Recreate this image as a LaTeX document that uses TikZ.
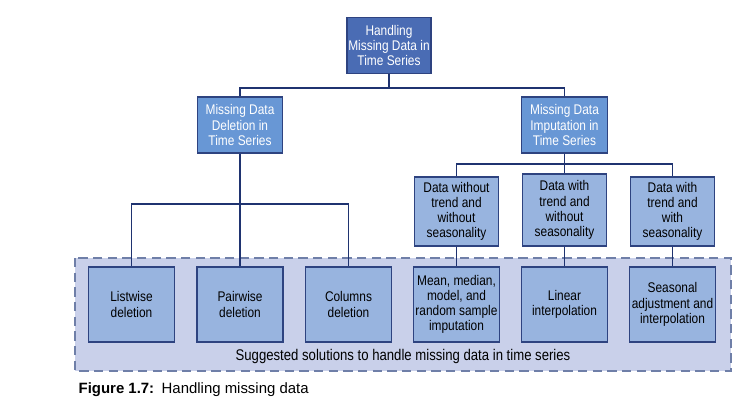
\documentclass[tikz,border=0pt]{standalone}
\usepackage{fontspec}
\setmainfont{Liberation Sans}
\newfontfamily\boxfont[FakeStretch=0.85]{Liberation Sans}

\definecolor{topblue}{HTML}{4A6CB4}
\definecolor{midblue}{HTML}{6897D5}
\definecolor{lowblue}{HTML}{98B4DF}
\definecolor{panelblue}{HTML}{C9D0EA}
\definecolor{edgeblue}{HTML}{2E4380}
\definecolor{linkblue}{HTML}{1F3370}
\definecolor{dashblue}{HTML}{6F7FA8}

\begin{document}
\begin{tikzpicture}[x=0.75pt, y=-0.75pt,
		box/.style={draw=edgeblue, line width=0.9pt, align=center, inner sep=1pt,
			font=\boxfont\fontsize{10.5}{11.4}\selectfont},
		rootbox/.style={box, fill=topblue, text=white, minimum width=63pt, minimum height=42pt},
		branchbox/.style={box, fill=midblue, text=white, minimum width=64pt, minimum height=42pt},
		casebox/.style={box, fill=lowblue, text=black, minimum width=63pt, minimum height=51.75pt},
		fixbox/.style={box, fill=lowblue, text=black, minimum width=64.5pt, minimum height=56.25pt},
		link/.style={draw=linkblue, line width=0.9pt}]
		
		\useasboundingbox (0,0) rectangle (754,406);
		
		% dashed panel behind the solutions
		\draw[fill=panelblue, draw=dashblue, line width=1.2pt, dash pattern=on 7pt off 4pt]
			(75,258) rectangle (731,371);
		\node[font=\boxfont\fontsize{11.6}{13}\selectfont] (panellabel) at (403,357)
			{Suggested solutions to handle missing data in time series};
		
		% root and the two branches
		\node[rootbox] (root) at (389,45.5) {Handling\\Missing Data in\\Time Series};
		\node[branchbox] (del) at (240,125) {Missing Data\\Deletion in\\Time Series};
		\node[branchbox] (imp) at (564.5,125) {Missing Data\\Imputation in\\Time Series};
		
		% cases under imputation
		\node[casebox] (notrend) at (456.5,211.5) {Data without\\trend and\\without\\seasonality};
		\node[casebox, minimum height=54pt] (trendonly) at (564.5,210) {Data with\\trend and\\without\\seasonality};
		\node[casebox] (trendseason) at (672.5,211.5) {Data with\\trend and\\with\\seasonality};
		
		% suggested solutions
		\node[fixbox] (listwise) at (131.5,304.5) {Listwise\\deletion};
		\node[fixbox] (pairwise) at (240,304.5) {Pairwise\\deletion};
		\node[fixbox] (columns) at (348.5,304.5) {Columns\\deletion};
		\node[fixbox] (meanfill) at (456.5,304.5) {Mean, median,\\model, and\\random sample\\imputation};
		\node[fixbox] (linear) at (564.5,304.5) {Linear\\interpolation};
		\node[fixbox] (seasonal) at (672.5,304.5) {Seasonal\\adjustment and\\interpolation};
		
		% bus points of the tree
		\coordinate (busA) at (389,88);
		\coordinate (busB) at (240,204);
		\coordinate (busC) at (564.5,164);
		
		\draw[link] (root.south) -- (busA) -| (del.north);
		\draw[link] (busA) -| (imp.north);
		
		\draw[link] (del.south) -- (busB) -| (listwise.north);
		\draw[link] (busB) -- (pairwise.north);
		\draw[link] (busB) -| (columns.north);
		
		\draw[link] (imp.south) -- (busC) -| (notrend.north);
		\draw[link] (busC) -- (trendonly.north);
		\draw[link] (busC) -| (trendseason.north);
		
		\draw[link] (notrend.south) -- (meanfill.north);
		\draw[link] (trendonly.south) -- (linear.north);
		\draw[link] (trendseason.south) -- (seasonal.north);
		
		% caption under the picture
		\node[anchor=west, font=\fontsize{11.2}{13}\selectfont] (figcaption) at (74,390)
			{\textbf{Figure 1.7:}\enspace Handling missing data};
	\end{tikzpicture}
\end{document}
